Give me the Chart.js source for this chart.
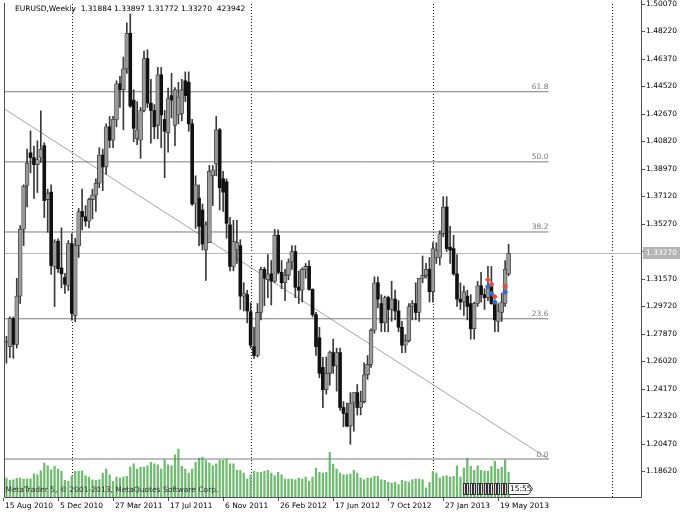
<!DOCTYPE html>
<html>
<head>
<meta charset="utf-8">
<script src="https://cdn.jsdelivr.net/npm/chart.js@4.4.1/dist/chart.umd.min.js"></script>
<style>
html, body { margin: 0; padding: 0; background: #fff; }
#wrap { width: 688px; height: 516px; }
</style>
</head>
<body>
<div id="wrap"><canvas id="chart" width="688" height="516"></canvas></div>
<script>
// EURUSD weekly, bar index 0 = week of 15 Aug 2010
var firstBar = 1;
var opens = [1.2725,1.2700,1.2890,1.2715,1.3040,1.3490,1.3785,1.4005,1.3972,1.3925,
  1.3970,1.4053,1.3690,1.3740,1.3240,1.3410,1.3230,1.3165,1.3112,1.3394,
  1.2910,1.3380,1.3610,1.3575,1.3545,1.3690,1.3720,1.3800,1.3990,1.3910,
  1.4180,1.4090,1.4230,1.4470,1.4430,1.4570,1.4810,1.4360,1.4100,1.4090,
  1.4290,1.4640,1.4340,1.4290,1.4190,1.4530,1.4230,1.4140,1.4390,1.4190,
  1.4260,1.4270,1.4490,1.4480,1.4200,1.3660,1.3700,1.3620,1.3350,1.3400,
  1.3850,1.3930,1.4160,1.3830,1.3810,1.3520,1.3240,1.3350,1.3380,1.3040,
  1.3050,1.2935,1.2700,1.2640,1.2930,1.3220,1.3150,1.3190,1.3140,1.3450,
  1.3200,1.3130,1.3180,1.3270,1.3340,1.3100,1.3080,1.3220,1.3240,1.3085,
  1.2915,1.2760,1.2560,1.2410,1.2520,1.2660,1.2570,1.2660,1.2290,1.2250,
  1.2165,1.2320,1.2390,1.2290,1.2330,1.2510,1.2580,1.2810,1.3130,1.2990,
  1.2860,1.3030,1.2950,1.3020,1.2940,1.2830,1.2710,1.2740,1.2970,1.2990,
  1.2930,1.3160,1.3180,1.3220,1.3070,1.3300,1.3300,1.3460,1.3640,1.3370,
  1.3360,1.3190,1.3020,1.3000,1.3040,1.2990,1.2820,1.2990,1.3110,1.3050,
  1.3030,1.3110,1.2990,1.2870,1.2930,1.2990,1.31884];
var highs = [1.2770,1.2900,1.2900,1.3160,1.3515,1.3790,1.4030,1.4153,1.4050,1.4086,
  1.4288,1.4073,1.3760,1.3790,1.3420,1.3425,1.3500,1.3193,1.3414,1.3461,
  1.3430,1.3630,1.3760,1.3650,1.3700,1.3760,1.3830,1.4040,1.4030,1.4200,
  1.4250,1.4250,1.4490,1.4520,1.4650,1.4880,1.4940,1.4430,1.4350,1.4310,
  1.4690,1.4700,1.4500,1.4330,1.4580,1.4580,1.4290,1.4440,1.4540,1.4445,
  1.4480,1.4500,1.4550,1.4550,1.4230,1.3850,1.3790,1.3660,1.3540,1.3920,
  1.3920,1.4250,1.4170,1.3880,1.3830,1.3570,1.3550,1.3550,1.3420,1.3130,
  1.3080,1.2995,1.2830,1.2990,1.3235,1.3235,1.3320,1.3280,1.3490,1.3486,
  1.3280,1.3220,1.3290,1.3380,1.3380,1.3210,1.3230,1.3260,1.3280,1.3090,
  1.2930,1.2830,1.2628,1.2630,1.2670,1.2750,1.2690,1.2690,1.2330,1.2320,
  1.2390,1.2390,1.2445,1.2400,1.2590,1.2640,1.2820,1.3170,1.3170,1.3050,
  1.3040,1.3040,1.3140,1.3080,1.3010,1.2870,1.2780,1.2990,1.3010,1.3130,
  1.3160,1.3310,1.3260,1.3300,1.3400,1.3400,1.3480,1.3710,1.3710,1.3510,
  1.3450,1.3320,1.3130,1.3110,1.3080,1.3050,1.3000,1.3140,1.3200,1.3090,
  1.3240,1.3240,1.3000,1.2990,1.3060,1.3280,1.33897];
var lows = [1.2588,1.2625,1.2621,1.2690,1.2990,1.3380,1.3640,1.3870,1.3698,1.3737,
  1.3940,1.3569,1.3470,1.3186,1.2969,1.3200,1.3095,1.3058,1.3078,1.2877,
  1.2867,1.3300,1.3485,1.3510,1.3500,1.3560,1.3610,1.3770,1.3750,1.3860,
  1.4040,1.4040,1.4180,1.4310,1.4160,1.4540,1.4310,1.4080,1.4060,1.3967,
  1.4280,1.4310,1.4070,1.4100,1.4100,1.4040,1.3837,1.4010,1.4240,1.4053,
  1.4200,1.4220,1.4350,1.4150,1.3650,1.3495,1.3380,1.3350,1.3145,1.3400,
  1.3650,1.3850,1.3620,1.3610,1.3430,1.3210,1.3210,1.3260,1.2950,1.2940,
  1.2860,1.2690,1.2620,1.2630,1.2880,1.2975,1.3030,1.2980,1.3130,1.3190,
  1.3090,1.3010,1.3150,1.3220,1.3030,1.2990,1.3000,1.3160,1.3080,1.2900,
  1.2640,1.2490,1.2288,1.2380,1.2440,1.2520,1.2400,1.2270,1.2160,1.2160,
  1.2042,1.2130,1.2240,1.2240,1.2320,1.2480,1.2560,1.2790,1.2960,1.2800,
  1.2800,1.2800,1.2870,1.2880,1.2800,1.2660,1.2660,1.2730,1.2880,1.2880,
  1.2870,1.3130,1.3160,1.3000,1.3000,1.3260,1.3250,1.3440,1.3340,1.3260,
  1.3180,1.2970,1.2950,1.2910,1.2880,1.2750,1.2750,1.2970,1.3000,1.2950,
  1.3010,1.2985,1.2800,1.2800,1.2870,1.2970,1.31772];
var closes = [1.2735,1.2890,1.2715,1.3040,1.3490,1.3780,1.3935,1.3972,1.3925,1.3960,
  1.4030,1.3683,1.3730,1.3246,1.3406,1.3225,1.3190,1.3120,1.3394,1.2924,
  1.3380,1.3610,1.3575,1.3545,1.3690,1.3720,1.3800,1.3990,1.3910,1.4180,
  1.4090,1.4230,1.4470,1.4430,1.4570,1.4810,1.4320,1.4170,1.4160,1.4290,
  1.4640,1.4340,1.4290,1.4180,1.4530,1.4260,1.4150,1.4370,1.4360,1.4430,
  1.4380,1.4430,1.4390,1.4200,1.3660,1.3790,1.3510,1.3390,1.3520,1.3880,
  1.3890,1.4160,1.3770,1.3740,1.3530,1.3240,1.3410,1.3400,1.3040,1.3060,
  1.2940,1.2710,1.2640,1.2930,1.3220,1.3160,1.3190,1.3140,1.3450,1.3200,
  1.3130,1.3180,1.3270,1.3340,1.3100,1.3080,1.3220,1.3240,1.3085,1.2915,
  1.2700,1.2520,1.2410,1.2520,1.2660,1.2570,1.2660,1.2290,1.2250,1.2165,
  1.2320,1.2390,1.2290,1.2330,1.2510,1.2580,1.2810,1.3130,1.3020,1.2860,
  1.3030,1.2950,1.3020,1.2940,1.2830,1.2710,1.2740,1.2970,1.2990,1.2930,
  1.3160,1.3180,1.3220,1.3070,1.3360,1.3350,1.3460,1.3640,1.3360,1.3350,
  1.3190,1.3020,1.3000,1.3070,1.2970,1.2820,1.2990,1.3110,1.3050,1.3030,
  1.3110,1.2990,1.2880,1.2940,1.3000,1.3220,1.33270];
var volumes = [323000,284000,294000,318000,323000,306000,306000,311000,396000,379000,
  447000,578000,532000,464000,522000,476000,437000,284000,267000,362000,
  437000,437000,447000,362000,340000,294000,284000,294000,408000,476000,
  379000,267000,340000,323000,340000,352000,510000,566000,476000,510000,
  510000,532000,590000,566000,549000,476000,634000,549000,532000,719000,
  816000,522000,476000,408000,476000,590000,663000,680000,624000,578000,
  532000,566000,624000,624000,646000,566000,566000,454000,454000,408000,
  306000,379000,437000,420000,420000,437000,454000,408000,362000,420000,
  379000,306000,306000,306000,294000,323000,306000,340000,267000,340000,
  493000,420000,408000,420000,760000,561000,476000,408000,379000,379000,
  391000,454000,408000,323000,294000,323000,323000,352000,352000,294000,
  284000,250000,238000,250000,209000,284000,267000,250000,294000,306000,
  306000,294000,153000,250000,437000,408000,323000,352000,362000,340000,
  352000,532000,340000,493000,663000,522000,454000,532000,454000,437000,
  437000,522000,607000,476000,510000,634000,423942];

var yTickValues = [1.18620,1.20470,1.22320,1.24170,1.26020,1.27870,1.29720,1.31570,1.33420,
  1.35270,1.37120,1.38970,1.40820,1.42670,1.44520,1.46370,1.48220,1.50070];
var xTickBars = [0, 16, 32, 48, 64, 80, 96, 112, 128, 144];
var xTickLabels = ['15 Aug 2010', '5 Dec 2010', '27 Mar 2011', '17 Jul 2011', '6 Nov 2011',
  '26 Feb 2012', '17 Jun 2012', '7 Oct 2012', '27 Jan 2013', '19 May 2013'];
var yearSeparators = [20, 72, 125, 177];

// fibonacci retracement object: anchors (bar, price) and levels in percent
var fibAnchorBars = [-110, 158.6];
var fibAnchorPrices = [1.5945, 1.1943];
var fibLevels = [0, 23.6, 38.2, 50, 61.8];
var fibLabels = ['0.0', '23.6', '38.2', '50.0', '61.8'];

// trade arrows
var sellBars = [141, 142, 143, 146];
var sellPrices = [1.3150, 1.3120, 1.3035, 1.3105];
var buyBars = [141, 142, 143, 146];
var buyPrices = [1.3105, 1.3058, 1.3000, 1.3068];

var symbolName = 'EURUSD,Weekly';
var serverTime = '15:55';
var copyright = 'MetaTrader 5, \u00a9 2001-2013, MetaQuotes Software Corp.';

var FONT = '7.5px "DejaVu Sans"';

var wickData = [], bullData = [], bearData = [], volData = [];
for (var k = 0; k < opens.length; k++) {
    var bar = firstBar + k;
    wickData.push({ x: bar, y: [lows[k], highs[k]] });
    if (closes[k] >= opens[k]) bullData.push({ x: bar, y: [opens[k], closes[k]] });
    else bearData.push({ x: bar, y: [closes[k], opens[k]] });
    volData.push({ x: bar, y: volumes[k] });
}
var last = opens.length - 1;
var lastBar = firstBar + last;
var lastPrice = closes[last];

var fibPrices = fibLevels.map(function (lv) {
    return fibAnchorPrices[1] + (fibAnchorPrices[0] - fibAnchorPrices[1]) * lv / 100;
});

// lower "order" is painted on top
var datasets = [];
datasets.push({
    type: 'bar', label: 'volume', yAxisID: 'vol', data: volData, order: 9,
    backgroundColor: '#6fbb6f', barThickness: 1.6, grouped: false
});
fibPrices.forEach(function (p, n) {
    datasets.push({
        type: 'line', label: 'fib ' + fibLabels[n], order: 7,
        data: [{ x: fibAnchorBars[0], y: p }, { x: fibAnchorBars[1], y: p }],
        borderColor: '#7c7c7c', borderWidth: 1, pointRadius: 0, tension: 0
    });
});
datasets.push({
    type: 'line', label: 'fib trend', order: 7,
    data: [{ x: fibAnchorBars[0], y: fibAnchorPrices[0] }, { x: fibAnchorBars[1], y: fibAnchorPrices[1] }],
    borderColor: '#a4a4a4', borderWidth: 1, pointRadius: 0, tension: 0
});
datasets.push({
    type: 'bar', label: 'wick', data: wickData, order: 5, backgroundColor: '#3a3a3a',
    barThickness: 1, grouped: false, minBarLength: 1
});
datasets.push({
    type: 'bar', label: 'bull', data: bullData, order: 3, backgroundColor: '#9a9a9a',
    borderColor: '#3c3c3c', borderWidth: 0.8, borderSkipped: false,
    barThickness: 4, grouped: false, minBarLength: 1
});
datasets.push({
    type: 'bar', label: 'bear', data: bearData, order: 3, backgroundColor: '#111',
    borderWidth: 0, borderSkipped: false,
    barThickness: 3, grouped: false, minBarLength: 1
});
datasets.push({
    type: 'scatter', label: 'sell', order: 1,
    data: sellBars.map(function (b, n) { return { x: b, y: sellPrices[n] }; }),
    pointStyle: 'rectRot', pointRadius: 3, backgroundColor: '#e0503a', borderColor: '#e0503a', borderWidth: 0
});
datasets.push({
    type: 'scatter', label: 'buy', order: 1,
    data: buyBars.map(function (b, n) { return { x: b, y: buyPrices[n] }; }),
    pointStyle: 'rectRot', pointRadius: 3, backgroundColor: '#2f6fd0', borderColor: '#2f6fd0', borderWidth: 0
});

var terminalPlugin = {
    id: 'terminal',
    beforeDatasetsDraw: function (chart) {
        var ctx = chart.ctx, a = chart.chartArea, xs = chart.scales.x, ys = chart.scales.y;
        ctx.save();
        ctx.strokeStyle = '#1a1a1a';
        ctx.lineWidth = 1;
        ctx.setLineDash([1, 2]);
        yearSeparators.forEach(function (b) {
            var x = Math.round(xs.getPixelForValue(b)) + 0.5;
            ctx.beginPath();
            ctx.moveTo(x, a.top);
            ctx.lineTo(x, a.bottom);
            ctx.stroke();
        });
        ctx.setLineDash([]);
        var y = Math.round(ys.getPixelForValue(lastPrice)) + 0.5;
        ctx.strokeStyle = '#b8b8b8';
        ctx.beginPath();
        ctx.moveTo(a.left, y);
        ctx.lineTo(a.right, y);
        ctx.stroke();
        ctx.restore();
    },
    afterDraw: function (chart) {
        var ctx = chart.ctx, a = chart.chartArea, xs = chart.scales.x, ys = chart.scales.y;
        ctx.save();
        ctx.font = FONT;

        // fib level captions
        ctx.fillStyle = '#7a7a7a';
        ctx.textAlign = 'right';
        ctx.textBaseline = 'alphabetic';
        var fx = xs.getPixelForValue(fibAnchorBars[1]);
        fibPrices.forEach(function (p, n) {
            ctx.fillText(fibLabels[n], fx, ys.getPixelForValue(p) - 2.5);
        });

        // frame
        ctx.strokeStyle = '#505050';
        ctx.lineWidth = 1;
        ctx.beginPath();
        ctx.moveTo(a.left + 0.5, a.top - 1);
        ctx.lineTo(a.left + 0.5, a.bottom + 0.5);
        ctx.lineTo(a.right + 0.5, a.bottom + 0.5);
        ctx.lineTo(a.right + 0.5, 0);
        ctx.stroke();

        // price scale
        ctx.fillStyle = '#000';
        ctx.textAlign = 'left';
        ctx.textBaseline = 'middle';
        yTickValues.forEach(function (v) {
            var y = Math.round(ys.getPixelForValue(v)) + 0.5;
            ctx.beginPath();
            ctx.moveTo(a.right + 1, y);
            ctx.lineTo(a.right + 4, y);
            ctx.stroke();
            ctx.fillText(v.toFixed(5), a.right + 5, y);
        });
        var py = Math.round(ys.getPixelForValue(lastPrice));
        ctx.fillStyle = '#b4b4b4';
        ctx.fillRect(a.right + 2, py - 6, 37, 12);
        ctx.fillStyle = '#fff';
        ctx.fillText(lastPrice.toFixed(5), a.right + 5, py + 0.5);

        // time scale
        ctx.fillStyle = '#000';
        ctx.textBaseline = 'middle';
        xTickBars.forEach(function (b, n) {
            var x = Math.round(xs.getPixelForValue(b)) + 0.5;
            ctx.beginPath();
            ctx.moveTo(x, a.bottom + 1);
            ctx.lineTo(x, a.bottom + 4);
            ctx.stroke();
            ctx.fillText(xTickLabels[n], x + 1.5, a.bottom + 9.5);
        });

        // title line
        ctx.fillStyle = '#000';
        ctx.textBaseline = 'middle';
        var title = symbolName + '  ' + opens[last].toFixed(5) + ' ' + highs[last].toFixed(5) + ' ' +
            lows[last].toFixed(5) + ' ' + closes[last].toFixed(5) + '  ' + volumes[last];
        ctx.fillText(title, 15, 9);

        // copyright
        ctx.fillStyle = '#303030';
        ctx.fillText(copyright, a.left + 1.5, a.bottom - 6.5);

        // trade history strip and server time tag
        var sx0 = xs.getPixelForValue(134) - 1;
        var sx1 = xs.getPixelForValue(lastBar) - 1;
        var cols = ['#f2c8c8', '#c8d8f2', '#e8e8e8'];
        var n = 0;
        for (var sx = sx0; sx < sx1 - 1; sx += 3.45) {
            ctx.fillStyle = cols[n % 3];
            ctx.fillRect(sx, a.bottom - 13, 2.5, 11);
            ctx.strokeStyle = '#333';
            ctx.strokeRect(Math.round(sx) + 0.5, a.bottom - 13.5, 2, 11);
            n++;
        }
        var tx = Math.round(sx1) + 0.5;
        var ty = a.bottom - 13.5;
        ctx.fillStyle = '#fff';
        ctx.strokeStyle = '#333';
        ctx.beginPath();
        ctx.moveTo(tx, ty);
        ctx.lineTo(tx + 20, ty);
        ctx.lineTo(tx + 24, ty + 5.5);
        ctx.lineTo(tx + 20, ty + 11);
        ctx.lineTo(tx, ty + 11);
        ctx.closePath();
        ctx.fill();
        ctx.stroke();
        ctx.fillStyle = '#000';
        ctx.fillText(serverTime, tx + 1.5, ty + 6);

        ctx.restore();
    }
};

new Chart(document.getElementById('chart'), {
    type: 'bar',
    data: { datasets: datasets },
    options: {
        responsive: false,
        animation: false,
        devicePixelRatio: 1,
        layout: { padding: { left: 2, right: 47, top: 3, bottom: 19 } },
        plugins: { legend: { display: false }, tooltip: { enabled: false } },
        scales: {
            x: { type: 'linear', min: 0.29, max: 185.5, offset: false, display: false },
            y: { type: 'linear', min: 1.16873, max: 1.50070, display: false },
            vol: { type: 'linear', min: 0, max: 8400000, display: false }
        }
    },
    plugins: [terminalPlugin]
});
</script>
</body>
</html>
